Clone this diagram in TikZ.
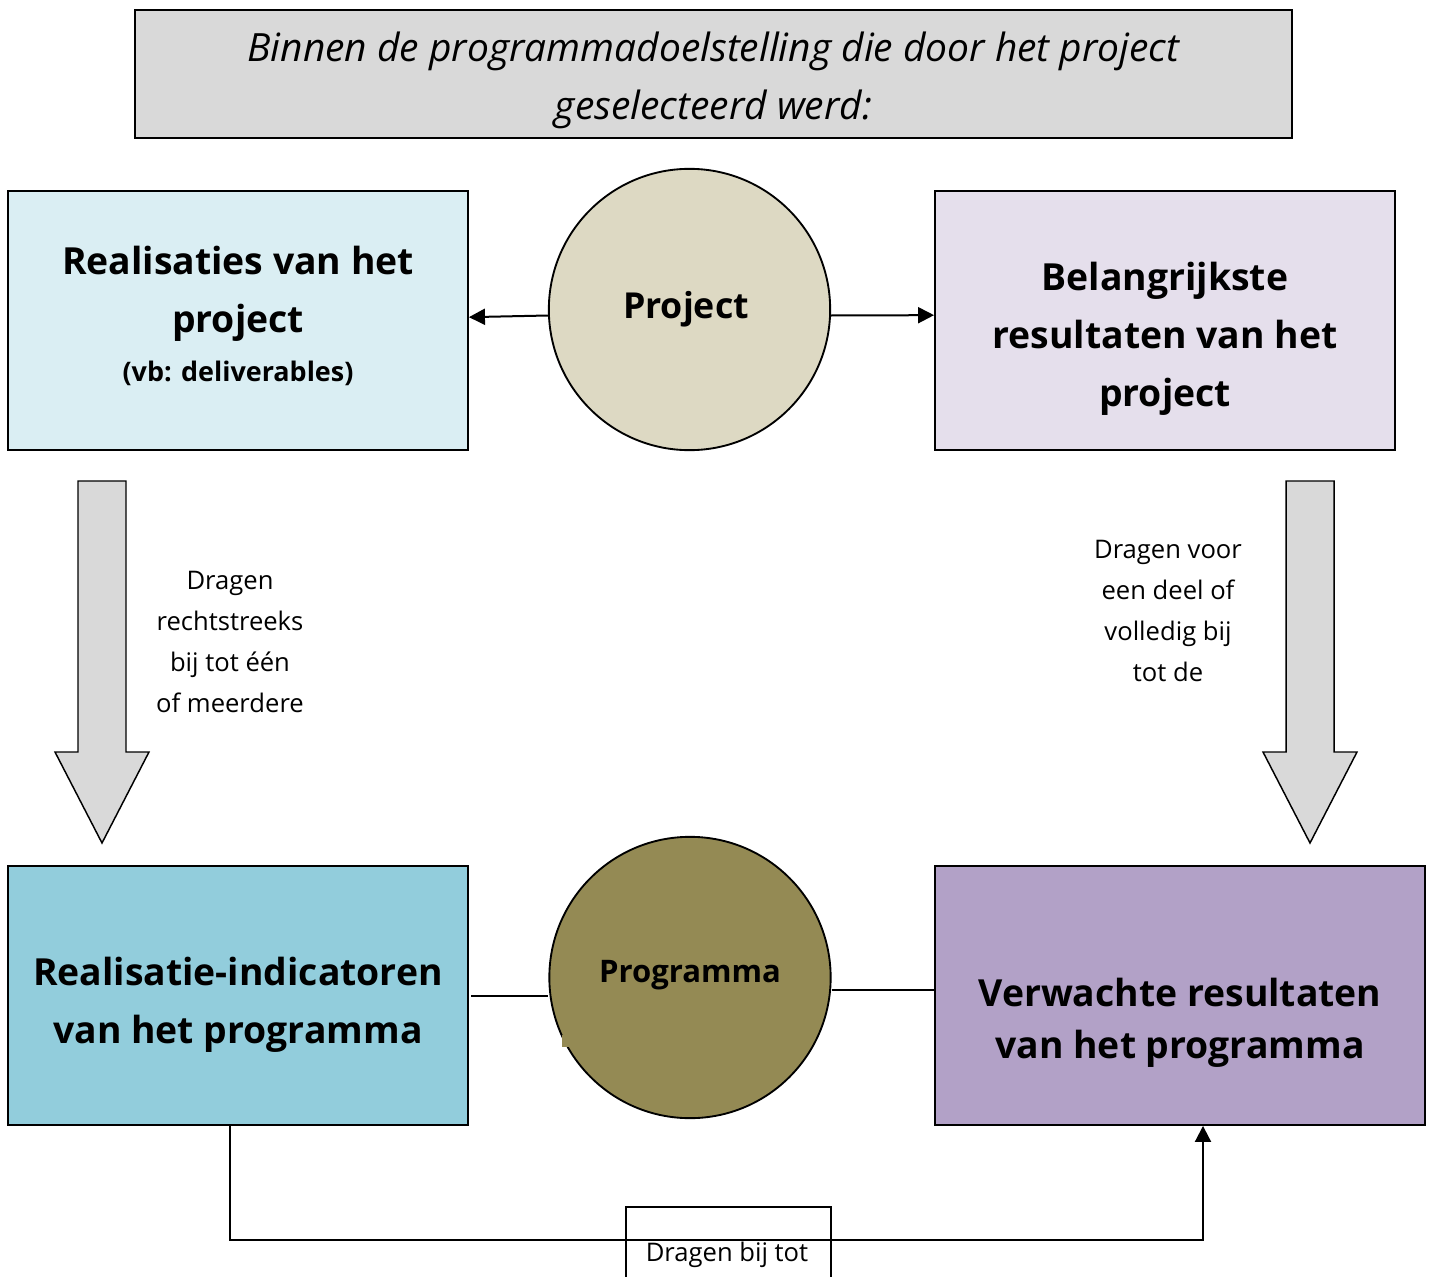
\documentclass[tikz,border=0pt]{standalone}
\usepackage{fontspec}
\setmainfont{Open Sans}
\usetikzlibrary{arrows.meta}
\definecolor{titlegray}{HTML}{D9D9D9}
\definecolor{lblue}{HTML}{DAEEF3}
\definecolor{dblue}{HTML}{92CDDC}
\definecolor{lpurple}{HTML}{E5DFEC}
\definecolor{dpurple}{HTML}{B2A1C7}
\definecolor{lkhaki}{HTML}{DDD9C3}
\definecolor{olive}{HTML}{948A54}
\definecolor{arrgray}{HTML}{D9D9D9}
\tikzset{
  boxst/.style={draw=black, line width=1.4pt, inner sep=0pt},
  circst/.style={draw=black, line width=1.4pt, circle, inner sep=0pt, minimum size=211pt},
  bigtxt/.style={align=center, font=\fontsize{28}{43.5}\selectfont\bfseries},
  smalltxt/.style={align=center, font=\fontsize{19.2}{30.8}\selectfont},
  conn/.style={line width=1.5pt},
  arr/.style={line width=1.5pt, -{Triangle[length=12pt,width=12pt]}},
  bigarrow/.style={draw=black, fill=arrgray, line width=1.1pt, line join=miter}
}
\begin{document}
\begin{tikzpicture}[x=0.75pt,y=-0.75pt]
\clip (0,0) rectangle (1431,1277);
\fill[white] (0,0) rectangle (1431,1277);
% title
\node[boxst, fill=titlegray, minimum width=867.75pt, minimum height=96pt] (title) at (713.5,74) {};
\node[align=center, font=\fontsize{29.2}{43.5}\selectfont\itshape] (titletxt) at (713.5,80.5)
  {Binnen de programmadoelstelling die door het project\\geselecteerd werd:};
% top boxes
\node[boxst, fill=lblue, minimum width=345pt, minimum height=194.25pt] (b1) at (238,320.5) {};
\node[bigtxt] (b1t) at (238,294) {Realisaties van het\\project};
\node[font=\fontsize{20.2}{24}\selectfont\bfseries] (b1s) at (238,373) {(vb: deliverables)};
\node[boxst, fill=lpurple, minimum width=345pt, minimum height=194.25pt] (b2) at (1165,320.5) {};
\node[bigtxt] (b2t) at (1165,339) {Belangrijkste\\resultaten van het\\project};
\node[circst, fill=lkhaki] (proj) at (689.5,309.5) {};
\node[font=\fontsize{26.8}{32}\selectfont\bfseries] (projt) at (686,309) {Project};
% bottom boxes
\node[boxst, fill=dblue, minimum width=345pt, minimum height=194.25pt] (b3) at (238,995.5) {};
\node[bigtxt] (b3t) at (238,1005) {Realisatie-indicatoren\\van het programma};
\node[boxst, fill=dpurple, minimum width=367.5pt, minimum height=194.25pt] (b4) at (1180,995.5) {};
\node[align=center, font=\fontsize{28}{39}\selectfont\bfseries] (b4t) at (1180,1023) {Verwachte resultaten\\van het programma};
\node[circst, fill=olive] (prog) at (690,977.5) {};
\fill[olive] (562,1035) rectangle (575,1047);
\node[font=\fontsize{23.3}{28}\selectfont\bfseries] (progt) at (690,975) {Programma};
% connectors top
\draw[arr] ([yshift=-4.5pt]proj.west) -- ([yshift=2.5pt]b1.east);
\draw[arr] ([yshift=-4.5pt]proj.east) -- ([yshift=4pt]b2.west);
% connectors bottom
\draw[conn] (471,996) coordinate (l1) -- (prog.west |- l1);
\draw[conn] (prog.east |- 0,990) coordinate (r1) -- (b4.west |- r1);
% big arrows
\draw[bigarrow] (78,481) -- (126,481) -- (126,752) -- (149,752) -- (102,843) -- (55,752) -- (78,752) -- cycle;
\draw[bigarrow] (1286,481) -- (1334,481) -- (1334,752) -- (1357,752) -- (1310,843) -- (1263,752) -- (1286,752) -- cycle;
\node[smalltxt] (lt) at (230,642) {Dragen\\rechtstreeks\\bij tot één\\of meerdere};
\node[smalltxt] (rt) at (1168,611) {Dragen voor\\een deel of\\volledig bij\\tot de};
% bottom connector
\node[draw=black, line width=1.2pt, minimum width=153.75pt, minimum height=90pt, anchor=north west] (lab) at (625,1206) {};
\node[font=\fontsize{19.2}{24}\selectfont] (labt) at (727,1255) {Dragen bij tot};
\coordinate (c1) at (230,1240);
\coordinate (c2) at (1203,1240);
\draw[arr] (b3.south -| c1) -- (c1) -- (c2) -- (b4.south -| c2);
\end{tikzpicture}
\end{document}
